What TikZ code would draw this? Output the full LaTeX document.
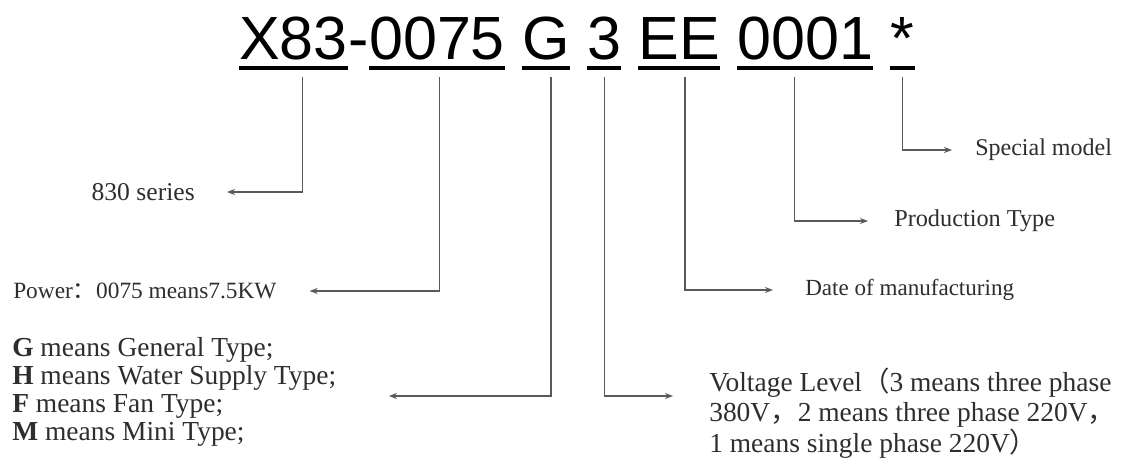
\documentclass[tikz,border=0pt]{standalone}
\usepackage{fontspec}
\setmainfont{Liberation Serif}
\setsansfont{Liberation Sans}
\newfontfamily\cjk{Noto Sans CJK SC}
\usetikzlibrary{positioning,arrows.meta}

\tikzset{
  code/.style={inner sep=0pt, text depth=0pt, font=\sffamily\fontsize{45.75}{50}\selectfont},
  uline/.style={line width=3.4pt},
  conn/.style={draw=black!65, line width=1.1pt, -{Stealth[length=6pt,width=4.5pt]}},
  lbl/.style={inner sep=0pt, text=black!82, font=\fontsize{#1}{#1}\selectfont},
  blk/.style={inner sep=0pt, text=black!82, align=left,
    font=\fontsize{20.6}{#1}\selectfont,
    execute at begin node={\lineskiplimit=-40pt\relax}},
}

\begin{document}
\begin{tikzpicture}[x=0.75pt, y=-0.75pt]
  \fill[white] (0,0) rectangle (1127,464);
  \useasboundingbox (0,0) rectangle (1127,464);

  % model code
  \node[code, anchor=base west] (x83) at (239,59) {X83};
  \node[code, base right=0pt of x83] (dash) {-};
  \node[code, base right=0pt of dash] (pwr) {0075};
  \node[code, base right=12.7pt of pwr] (typ) {G};
  \node[code, base right=12.7pt of typ] (volt) {3};
  \node[code, base right=12.7pt of volt] (date) {EE};
  \node[code, base right=12.7pt of date] (prod) {0001};
  \node[code, base right=12.7pt of prod] (spec) {*};
  \foreach \n in {x83, pwr, typ, volt, date, prod, spec} {
    \draw[uline] ([yshift=-6.75pt]\n.base west) -- ([yshift=-6.75pt]\n.base east);
  }

  % labels
  \node[lbl=19.2, anchor=east] (ser) at (195,192) {830 series};
  \node[lbl=17.5, anchor=west] (pow) at (13,291) {Power{\cjk ：}0075 means7.5KW};
  \node[blk=21, anchor=west] (gblk) at (12,392) {\textbf{G} means General Type;\\
    \textbf{H} means Water Supply Type;\\
    \textbf{F} means Fan Type;\\
    \textbf{M} means Mini Type;};
  \node[lbl=18, anchor=west] (spc) at (975,150) {Special model};
  \node[lbl=18.2, anchor=west] (prd) at (894,221) {Production Type};
  \node[lbl=17.3, anchor=west] (dat) at (805,290) {Date of manufacturing};
  \node[blk=23, anchor=west] (vlt) at (709,413) {Voltage Level{\cjk （}3 means three phase\\
    380V{\cjk ，}2 means three phase 220V{\cjk ，}\\
    1 means single phase 220V{\cjk ）}};

  % connectors
  \draw[conn, shorten >=24pt] ([xshift=6.75pt,yshift=-13.5pt]x83.base) |- (ser.east);
  \draw[conn, shorten >=24.75pt] ([xshift=1.9pt,yshift=-13.5pt]pwr.base) |- (pow.east);
  \draw[conn, shorten >=39.4pt] ([xshift=3.75pt,yshift=-13.5pt]typ.base) |- ([yshift=-3pt]gblk.east);
  \draw[conn, shorten >=27pt] ([yshift=-13.5pt]volt.base) |- ([yshift=12.75pt]vlt.west);
  \draw[conn, shorten >=24pt] ([xshift=4.1pt,yshift=-13.5pt]date.base) |- (dat.west);
  \draw[conn, shorten >=19.5pt] ([xshift=-8.25pt,yshift=-13.5pt]prod.base) |- (prd.west);
  \draw[conn, shorten >=17.25pt] ([yshift=-13.5pt]spec.base) |- (spc.west);
\end{tikzpicture}
\end{document}
